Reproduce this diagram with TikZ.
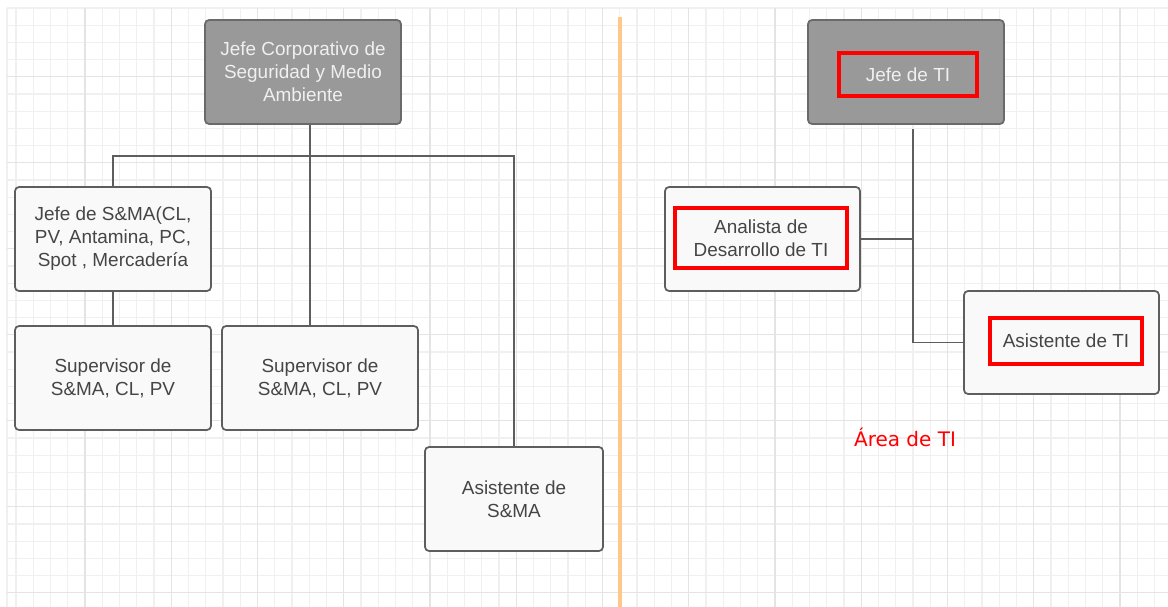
\documentclass[tikz,border=0pt]{standalone}
\usepackage{fontspec}
\setmainfont{Liberation Sans}
\newfontfamily\labelfont{DejaVu Sans}
\definecolor{gridminor}{HTML}{F0F0F0}
\definecolor{gridmajor}{HTML}{E4E4E4}
\definecolor{boxfill}{HTML}{F9F9F9}
\definecolor{boxline}{HTML}{5E5E5E}
\definecolor{headfill}{HTML}{999999}
\definecolor{headline}{HTML}{6A6A6A}
\definecolor{bodytext}{HTML}{454545}
\definecolor{headtext}{HTML}{F0F0F0}
\definecolor{divider}{HTML}{FFC88A}
\definecolor{mark}{HTML}{FF0000}
\begin{document}
\begin{tikzpicture}[x=0.75pt,y=-0.75pt,
  every node/.style={font=\fontsize{14.2}{17.25}\selectfont},
  % sizes below are given in pixels and scaled to points
  boxsize/.style 2 args={minimum width=0.75*#1,minimum height=0.75*#2},
  orgbox/.style={draw=boxline,fill=boxfill,line width=1.3pt,rounded corners=3pt,
    align=center,text=bodytext,inner sep=0pt},
  headbox/.style={orgbox,draw=headline,fill=headfill,text=headtext},
  redframe/.style={draw=mark,line width=2.6pt,inner sep=0pt,align=center},
  link/.style={draw=boxline,line width=1.3pt}]
\useasboundingbox (0,0) rectangle (1168,607);
\fill[white] (0,0) rectangle (1168,607);

% background grid
\foreach \n [evaluate=\n as \gx using 85+17.25*\n] in {-4,...,62}
  \draw[gridminor,line width=0.8pt] (\gx,8) -- (\gx,607);
\draw[gridminor,line width=0.8pt] (7,8) -- (7,607);
\foreach \m [evaluate=\m as \gy using 8+17.2*\m] in {0,...,35}
  \draw[gridminor,line width=0.8pt] (7,\gy) -- (1168,\gy);
\foreach \k [evaluate=\k as \gx using 85+86.25*\k] in {0,...,12}
  \draw[gridmajor,line width=1pt] (\gx,8) -- (\gx,607);
\foreach \k [evaluate=\k as \gy using 76.8+86*\k] in {0,...,6}
  \draw[gridmajor,line width=1pt] (7,\gy) -- (1168,\gy);

% divider between the two charts
\draw[divider,line width=2.6pt] (620,17) -- (620,607);

% ---- Seguridad y Medio Ambiente ----
\node[headbox,boxsize={196}{104}] (jefe) at (303,72)
  {Jefe Corporativo de\\Seguridad y Medio\\Ambiente};
\node[orgbox,boxsize={196}{104}] (jsma) at (113,239)
  {Jefe de S\&MA(CL,\\PV, Antamina, PC,\\Spot , Mercadería};
\node[orgbox,boxsize={196}{104}] (sup1) at (113,378)
  {Supervisor de\\S\&MA, CL, PV};
\node[orgbox,boxsize={196}{104}] (sup2) at (320,378)
  {Supervisor de\\S\&MA, CL, PV};
\node[orgbox,boxsize={178}{104}] (asis) at (514,499)
  {Asistente de\\S\&MA};

\coordinate (bus) at (310,156);
\draw[link] (jefe.south -| bus) -- (bus);
\draw[link] (jsma.north) |- (bus) -| (asis.north);
\draw[link] (bus) -- (sup2.north -| bus);
\draw[link] (jsma.south) -- (sup1.north);

% ---- Área de TI ----
\node[headbox,boxsize={196}{104}] (jefeti) at (906,72) {};
\node[redframe,text=headtext,boxsize={138}{43}] (jefetitxt) at (908,74.5)
  {Jefe de TI};
\node[orgbox,boxsize={195}{104}] (anal) at (762.5,239) {};
\node[redframe,text=bodytext,boxsize={172}{60}] (analtxt) at (761,238)
  {Analista de\\Desarrollo de TI};
\node[orgbox,boxsize={195}{103}] (asisti) at (1061.5,342.5) {};
\node[redframe,text=bodytext,boxsize={152}{46}] (asistitxt) at (1066,341)
  {Asistente de TI};

\coordinate (trunk) at (913,239);
\draw[link,shorten <=3pt] (jefeti.south -| trunk) |- (asisti.west);
\draw[link] (anal.east) -- (trunk);

\node[font=\labelfont\fontsize{15}{18}\selectfont,text=mark] (area) at (905,437) {Área de TI};
\end{tikzpicture}
\end{document}
